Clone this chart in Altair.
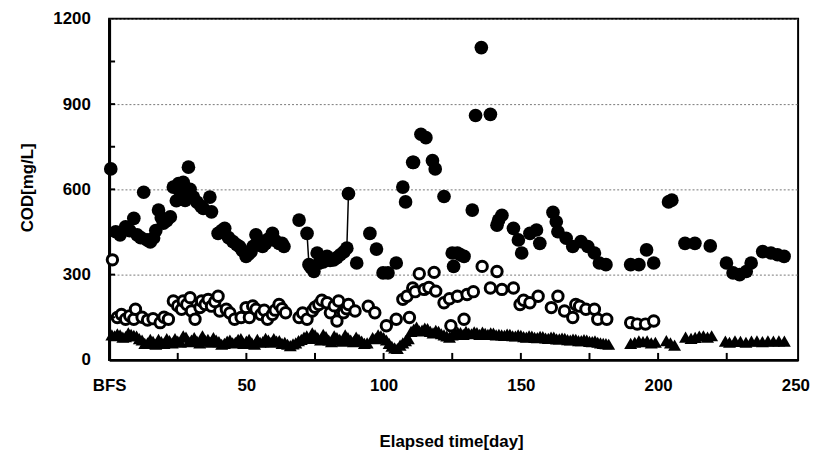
import altair as alt
import pandas as pd

# ---- axis ticks ----
x_major = [0, 50, 100, 150, 200, 250]
x_inner_ticks = [25, 50, 75, 100, 125, 150, 175, 200, 225]
y_major = [0, 300, 600, 900, 1200]
y_inner_ticks = [150, 300, 450, 600, 750, 900, 1050]

# ---- series 1: filled circles ----
filled_day = [0.6, 2.4, 4, 6, 7.5, 9, 10.2, 11.5, 12.6, 13.8, 15, 16.2, 17, 18, 19, 19.8, 21, 22.3,
              23.4, 24.5, 25.3, 26, 27, 27.7, 28.9, 29.5, 30.7, 32, 33.5, 34.3, 36.7, 37.3, 39.7, 41,
              42.1, 43.5, 45.1, 46.5, 47.5, 48.5, 49.9, 50.8, 51.7, 52.5, 53.5, 54.5, 55.9, 57, 58,
              59.5, 60.5, 61.9, 63, 63.7, 69.2, 72.1, 72.8, 73.5, 74.6, 75.8, 76.5, 77, 78, 79.4,
              80.5, 81.8, 83, 84.2, 85.5, 86.6, 87.2, 90.2, 95, 97.4, 99.8, 101.6, 104.6, 107, 108,
              110.6, 110.9, 113.6, 115.4, 117.8, 118.8, 122, 125, 125.5, 126.9, 128, 129.3, 132.3,
              133.5, 135.6, 138.9, 141.3, 141.9, 143.1, 147.3, 149.1, 150.3, 153.3, 155.7, 156.9,
              161.7, 162.9, 163.5, 166.5, 168.9, 171.9, 174.4, 176.8, 178.6, 181, 190, 193, 195.8,
              198.4, 203.8, 205, 209.8, 213.4, 219, 224.9, 227.3, 229.7, 232.1, 233.9, 238.1, 241.1,
              243.5, 245.9]
filled_cod = [672, 451, 440, 468, 455, 498, 440, 430, 590, 422, 415, 429, 455, 527, 500, 481, 490, 503,
              608, 560, 620, 590, 625, 561, 678, 600, 573, 555, 540, 533, 573, 521, 445, 455,
              463, 430, 416, 405, 399, 385, 364, 372, 381, 400, 440, 420, 399, 410, 425,
              445, 420, 410, 410, 399, 492, 445, 335, 325, 311, 376, 340, 352, 345, 364,
              350, 352, 360, 370, 380, 393, 585, 341, 445, 390, 306, 306, 341, 608, 556,
              695, 695, 794, 782, 701, 672, 575, 376, 329, 376, 370, 364, 527,
              860, 1099, 864, 474, 492, 509, 463, 422, 376, 445, 457, 410,
              519, 486, 451, 428, 399, 416, 399, 376, 341, 335, 335, 335, 387,
              341, 556, 562, 410, 410, 401, 341, 306, 300, 311, 341, 381, 376,
              370, 364]

# ---- series 2: open circles ----
open_day = [1.2, 3, 4.5, 6, 7.5, 9, 9.6, 12, 14, 16, 18.6, 20, 21.6, 23.4, 25, 26.4, 27, 28.3, 29.5,
            30, 31.3, 33.1, 33.7, 35, 36.1, 37.3, 38.5, 39.7, 40.3, 42.7, 44, 45.7, 48.1, 49.9,
            51.1, 52.3, 53.5, 55.3, 56.5, 57.7, 59.5, 60.5, 61.9, 63, 64.3, 69.2, 70.5, 72.1, 74,
            75, 76.4, 77.5, 79.4, 80.6, 82, 83, 83.6, 85.4, 86.5, 87.2, 89.6, 94.4, 96.8, 101,
            104.6, 107, 108.5, 109.4, 110.6, 111.5, 113, 114.8, 116.5, 118.4, 119, 122, 124,
            124.5, 126.9, 129.3, 130.4, 132.7, 135.9, 138.9, 141.3, 143.1, 147.3, 149.7, 151,
            153.3, 156.3, 161.1, 163.5, 165.9, 168.9, 170, 171.4, 173.7, 176.8, 178, 181.3,
            190, 192.4, 195.4, 198.4]
open_cod = [352, 149, 160, 143, 155, 143, 178, 150, 140, 145, 131, 150, 143, 207, 190, 178, 207, 195, 219,
            172, 143, 184, 207, 195, 213, 189, 205, 224, 172, 178, 165, 143, 149, 184,
            149, 190, 178, 160, 175, 143, 160, 175, 195, 180, 166, 149, 165, 143, 172,
            185, 195, 210, 201, 166, 190, 137, 207, 166, 180, 195, 172, 189, 166, 120,
            143, 213, 224, 149, 253, 240, 303, 248, 255, 308, 242, 201, 215,
            120, 224, 143, 230, 240, 329, 253, 311, 248, 253, 195, 210,
            201, 224, 184, 224, 172, 149, 195, 189, 178, 178, 143, 143,
            131, 126, 126, 137]

# ---- series 3: filled triangles ----
tri_day = [1, 2, 3, 4, 5, 6, 7, 8, 9, 10, 11, 12, 13, 14, 15, 16, 17, 18, 19, 20,
           21, 22, 23, 24, 25, 26, 27, 28, 29, 30, 31, 32, 33, 34, 35, 36, 37, 38, 39, 40,
           41, 42, 43, 44, 45, 46, 47, 48, 49, 50, 51, 52, 53, 54, 55, 56, 57, 58, 59, 60,
           61, 62, 63, 64, 65, 66, 67, 68, 69, 70, 71, 72, 73, 74, 75, 76, 77, 78, 79, 80,
           81, 82, 83, 84, 85, 86, 87, 88, 89, 90, 91, 92, 93, 94, 96, 97, 98, 99, 100,
           101, 102, 103, 104, 105, 106, 107, 108, 109, 110, 111, 112, 113, 114, 115, 116, 117,
           118, 119, 120, 121, 122, 123, 124, 125, 126, 127, 128, 129, 130, 131, 132, 133, 134,
           135, 136, 137, 138, 139, 140, 141, 142, 143, 144, 145, 146, 147, 148, 149, 150, 151,
           152, 153, 154, 155, 156, 157, 158, 159, 160, 161, 162, 163, 164, 165, 166, 167, 168,
           169, 170, 171, 172, 173, 174, 175, 176, 177, 178, 179, 180, 181, 182,
           190, 191.5, 193, 194.5, 196, 197.5, 199, 203, 204.5, 206,
           210, 212, 213.5, 215, 216.5, 218, 219.5, 224.5, 226, 228, 230, 232, 234, 236, 238,
           240, 242, 244, 246]
tri_cod = [88, 85, 92, 88, 80, 82, 95, 90, 86, 84, 75, 70, 58, 60, 72, 65, 55, 72, 64, 58,
           75, 68, 60, 75, 66, 62, 85, 80, 64, 70, 78, 66, 60, 85, 68, 72, 62, 78, 70, 64,
           55, 58, 66, 70, 60, 62, 72, 75, 58, 66, 72, 60, 55, 72, 62, 64, 76, 70, 62, 75,
           66, 68, 58, 62, 55, 50, 56, 60, 68, 72, 80, 85, 76, 95, 88, 78, 70, 90, 82, 70,
           64, 85, 78, 72, 66, 88, 78, 70, 64, 80, 72, 66, 58, 60, 78, 75, 88, 85, 78,
           70, 58, 48, 42, 40, 52, 60, 68, 75, 100, 108, 115, 102, 105, 112, 110, 100,
           95, 104, 100, 92, 88, 84, 80, 88, 92, 98, 96, 90, 100, 94, 92, 99, 96,
           90, 98, 93, 90, 95, 94, 88, 90, 88, 86, 91, 90, 85, 84, 88, 86, 82,
           80, 85, 84, 79, 78, 83, 82, 77, 76, 80, 80, 74, 74, 77, 76, 71, 70,
           73, 72, 68, 68, 71, 70, 65, 64, 67, 62, 60, 58, 57, 55,
           58, 62, 67, 64, 67, 60, 62, 68, 60, 52,
           80, 76, 79, 84, 85, 80, 85, 66, 62, 67, 65, 62, 66, 67, 64,
           67, 66, 67, 66]

FONT = "Liberation Sans"

filled_df = pd.DataFrame({"day": filled_day, "cod": filled_cod})
open_df = pd.DataFrame({"day": open_day, "cod": open_cod})
tri_df = pd.DataFrame({"day": tri_day, "cod": tri_cod})
xt_df = pd.DataFrame({"day": x_inner_ticks})
yt_df = pd.DataFrame({"cod": y_inner_ticks})

xscale = alt.Scale(domain=[0, 251], nice=False, zero=False)
yscale = alt.Scale(domain=[0, 1200], nice=False)

x_axis = alt.Axis(
    values=x_major, labelExpr="datum.value == 0 ? 'BFS' : datum.label",
    title="Elapsed time[day]", titleX=345, titleY=82, titleBaseline="middle",
    titleFont=FONT, titleFontSize=17, titleFontWeight="bold", titleColor="black",
    labelFont=FONT, labelFontSize=17, labelFontWeight="bold", labelColor="black",
    labelPadding=18, tickSize=0, domainColor="black", domainWidth=3, grid=False,
    labelFlush=False, labelOverlap=False,
)
y_axis = alt.Axis(
    values=y_major, format="d", title="COD[mg/L]", titleX=-82, titleY=170, titleAngle=-90,
    titleAlign="center", titleBaseline="middle",
    titleFont=FONT, titleFontSize=17, titleFontWeight="bold", titleColor="black",
    labelFont=FONT, labelFontSize=17, labelFontWeight="bold", labelColor="black",
    labelPadding=19, tickSize=0, domainColor="black", domainWidth=3,
    grid=True, gridColor="#777777", gridDash=[2, 2], gridWidth=1, labelOverlap=False,
)

X = alt.X("day:Q", scale=xscale, axis=x_axis)
Y = alt.Y("cod:Q", scale=yscale, axis=y_axis)

tri = alt.Chart(tri_df).mark_point(shape="triangle-up", filled=True, color="black",
                                   size=170, opacity=1).encode(x=X, y=Y)
opn = alt.Chart(open_df).mark_point(shape="circle", filled=True, fill="white", stroke="black",
                                    strokeWidth=3, size=110, opacity=1).encode(x=X, y=Y)
seg = alt.Chart(filled_df).transform_filter(
    (alt.datum.day >= 72) & (alt.datum.day <= 87.5)
).mark_line(color="black", strokeWidth=1.5).encode(x=X, y=Y)
fil = alt.Chart(filled_df).mark_point(shape="circle", filled=True, color="black",
                                      size=190, opacity=1).encode(x=X, y=Y)
xt = alt.Chart(xt_df).mark_rule(color="black", strokeWidth=2).encode(
    x=X, y=alt.value(344), y2=alt.value(337),
)
yt = alt.Chart(yt_df).mark_rule(color="black", strokeWidth=2).encode(
    y=Y, x=alt.value(0), x2=alt.value(6),
)

chart = alt.layer(tri, opn, seg, fil, xt, yt).properties(
    width=695, height=344,
    autosize=alt.AutoSizeParams(type="none"),
    padding={"left": 102, "top": 9, "right": 12, "bottom": 95},
    background="white",
).configure_view(stroke="black", strokeWidth=2)

chart.save("out.html", embed_options={"renderer": "svg", "actions": False})
